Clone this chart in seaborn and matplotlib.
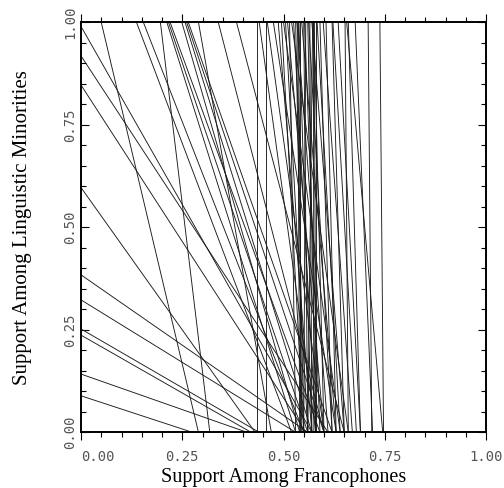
import numpy as np
import pandas as pd
import matplotlib
matplotlib.use("Agg")
import matplotlib.pyplot as plt
import seaborn as sns
from matplotlib.ticker import MultipleLocator, FixedLocator

# Tomography lines starting on the left edge: (y at x=0) -> (x at y=0)
left_y = [0.99, 0.918, 0.847, 0.597, 0.384, 0.323, 0.252, 0.237, 0.142, 0.089]
left_xb = [0.57, 0.61, 0.555, 0.43, 0.56, 0.53, 0.44, 0.42, 0.41, 0.275]

# Tomography lines starting on the top edge: (x at y=1) -> (x at y=0)
top_x = [0.05, 0.137, 0.154, 0.196, 0.212, 0.216, 0.22, 0.249, 0.257, 0.261,
         0.265, 0.29, 0.339, 0.384, 0.434, 0.44, 0.458, 0.46, 0.475, 0.487,
         0.495, 0.50, 0.505, 0.51, 0.515, 0.52, 0.525, 0.53, 0.533, 0.535,
         0.537, 0.538, 0.54, 0.545, 0.55, 0.552, 0.555, 0.56, 0.562, 0.565,
         0.57, 0.572, 0.574, 0.575, 0.576, 0.58, 0.583, 0.59, 0.598, 0.605,
         0.62, 0.622, 0.635, 0.652, 0.656, 0.66, 0.677, 0.709, 0.738]
top_xb = [0.29, 0.52, 0.55, 0.318, 0.53, 0.56, 0.59, 0.54, 0.57, 0.60,
          0.62, 0.47, 0.60, 0.65, 0.434, 0.58, 0.458, 0.60, 0.63, 0.57,
          0.55, 0.64, 0.56, 0.60, 0.53, 0.66, 0.58, 0.55, 0.61, 0.54,
          0.545, 0.57, 0.54, 0.63, 0.56, 0.59, 0.55, 0.58, 0.62, 0.57,
          0.65, 0.56, 0.575, 0.60, 0.58, 0.58, 0.64, 0.62, 0.67, 0.63,
          0.65, 0.68, 0.69, 0.66, 0.745, 0.69, 0.72, 0.718, 0.747]

x_ticks = [0.00, 0.25, 0.50, 0.75, 1.00]
y_ticks = [0.00, 0.25, 0.50, 0.75, 1.00]
tick_labels = ["0.00", "0.25", "0.50", "0.75", "1.00"]

rows = []
lid = 0
for y0, xb in zip(left_y, left_xb):
    rows.append((lid, 0.0, y0, 0))
    rows.append((lid, xb, 0.0, 1))
    lid += 1
for xt, xb in zip(top_x, top_xb):
    rows.append((lid, xt, 1.0, 0))
    rows.append((lid, xb, 0.0, 1))
    lid += 1
df = pd.DataFrame(rows, columns=["id", "x", "y", "order"])

sns.set_theme(style="white")
fig = plt.figure(figsize=(5.04, 4.88), dpi=100)
ax = fig.add_axes([81/504, 1-432.3/488, 405/504, 410/488])

sns.lineplot(data=df, x="x", y="y", units="id", estimator=None, sort=False,
             color="#1a1a1a", linewidth=0.65, ax=ax, legend=False)

ax.set_xlim(0, 1)
ax.set_ylim(0, 1)
for s in ax.spines.values():
    s.set_color("black")
    s.set_linewidth(1.4)

ax.xaxis.set_major_locator(FixedLocator(x_ticks))
ax.yaxis.set_major_locator(FixedLocator(y_ticks))
ax.xaxis.set_minor_locator(MultipleLocator(0.05))
ax.yaxis.set_minor_locator(MultipleLocator(0.05))
ax.tick_params(axis="x", which="both", direction="out", top=True, bottom=True,
               color="black", width=0.8)
ax.tick_params(axis="y", which="both", direction="in", left=True, right=True,
               color="black", width=0.8)
ax.tick_params(which="major", length=6)
ax.tick_params(which="minor", length=3.5)
ax.tick_params(axis="x", which="major", pad=7)
ax.tick_params(axis="y", which="major", pad=3)

mono = "DejaVu Sans Mono"
ax.set_xticklabels(tick_labels, family=mono, fontsize=10, color="#555555")
ax.set_yticklabels(tick_labels, family=mono, fontsize=10, color="#555555",
                   rotation=90, va="center")
ax.get_xticklabels()[0].set_ha("left")

ax.set_xlabel("Support Among Francophones", family="Liberation Serif",
              fontsize=14.5, color="black", labelpad=2.5)
ax.set_ylabel("Support Among Linguistic Minorities", family="Liberation Serif",
              fontsize=15, color="black", labelpad=22)

fig.savefig("out.png", dpi=100, facecolor="white")
